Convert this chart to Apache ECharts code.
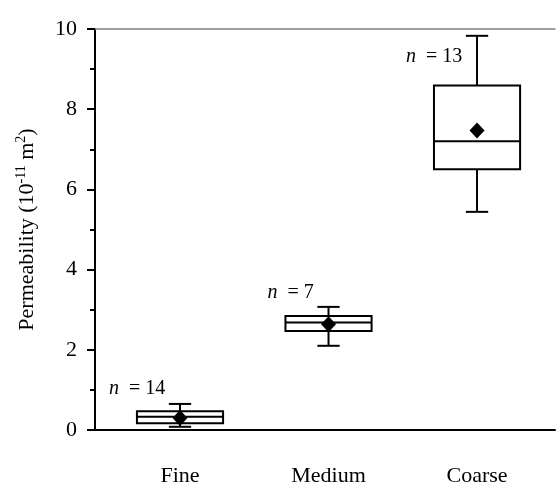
<!DOCTYPE html>
<html>
<head>
<meta charset="utf-8">
<script src="https://cdn.jsdelivr.net/npm/echarts@6/dist/echarts.min.js"></script>
<style>html,body{margin:0;padding:0;background:#fff}#c{width:557px;height:487px}</style>
</head>
<body>
<div id="c"></div>
<script>
// ---- data ----
const categories = ['Fine', 'Medium', 'Coarse'];
const whiskerMin = [0.08, 2.10, 5.44];
const q1 = [0.17, 2.47, 6.50];
const median = [0.33, 2.68, 7.20];
const q3 = [0.47, 2.84, 8.59];
const whiskerMax = [0.65, 3.07, 9.83];
const means = [0.30, 2.64, 7.47];
const nCounts = [14, 7, 13];
const nLabelY = [1.04, 3.42, 9.30];
const yTicks = [0, 2, 4, 6, 8, 10];

const FONT = 'Liberation Serif';
const boxData = categories.map((c, i) => [i + 1, whiskerMin[i], q1[i], median[i], q3[i], whiskerMax[i]]);
const meanData = categories.map((c, i) => [i + 1, means[i]]);
const labelData = categories.map((c, i) => [i + 1, nLabelY[i], nCounts[i]]);

const chart = echarts.init(document.getElementById('c'), null, {renderer: 'canvas'});
const xCommon = {
  type: 'value', min: 0.4276, max: 3.525,
  splitLine: {show: false}, axisTick: {show: false}
};
chart.setOption({
  animation: false,
  backgroundColor: '#fff',
  grid: {left: 95, right: 2, top: 29, bottom: 55},
  xAxis: [
    Object.assign({}, xCommon, {
      position: 'bottom',
      axisLine: {show: true, lineStyle: {color: '#000', width: 2}},
      axisLabel: {
        customValues: [1, 2, 3],
        formatter: v => categories[Math.round(v) - 1] || '',
        fontFamily: FONT, fontSize: 22, color: '#000', margin: 35
      }
    }),
    Object.assign({}, xCommon, {
      position: 'top',
      axisLine: {show: true, lineStyle: {color: '#808080', width: 1.5}},
      axisLabel: {show: false}
    })
  ],
  yAxis: {
    type: 'value', min: 0, max: 10, interval: 2,
    axisLine: {show: true, lineStyle: {color: '#000', width: 2}},
    axisTick: {show: true, length: 8, lineStyle: {color: '#000', width: 2}},
    minorTick: {show: true, splitNumber: 2, length: 5, lineStyle: {color: '#000', width: 2}},
    splitLine: {show: false},
    axisLabel: {
      customValues: yTicks,
      fontFamily: FONT, fontSize: 22, color: '#000', margin: 18
    },
    name: '{a|Permeability (10}{s|-11}{a| m}{s|2}{a|)}',
    nameLocation: 'middle', nameGap: 55,
    nameTextStyle: {
      rich: {
        a: {fontFamily: FONT, fontSize: 22, color: '#000', lineHeight: 26},
        s: {fontFamily: FONT, fontSize: 14, color: '#000', verticalAlign: 'top', lineHeight: 26}
      }
    }
  },
  series: [
    {
      type: 'custom',
      data: boxData,
      encode: {x: 0, y: [1, 2, 3, 4, 5]},
      renderItem: function (params, api) {
        const x = api.value(0);
        const halfBox = api.size([0.58, 0])[0] / 2;
        const halfCap = api.size([0.15, 0])[0] / 2;
        const pMin = api.coord([x, api.value(1)]);
        const pQ1 = api.coord([x, api.value(2)]);
        const pMed = api.coord([x, api.value(3)]);
        const pQ3 = api.coord([x, api.value(4)]);
        const pMax = api.coord([x, api.value(5)]);
        const cx = pMed[0];
        const ls = {stroke: '#000', lineWidth: 2, fill: null};
        return {
          type: 'group',
          children: [
            {type: 'line', shape: {x1: cx, y1: pMax[1], x2: cx, y2: pQ3[1]}, style: ls},
            {type: 'line', shape: {x1: cx, y1: pQ1[1], x2: cx, y2: pMin[1]}, style: ls},
            {type: 'line', shape: {x1: cx - halfCap, y1: pMax[1], x2: cx + halfCap, y2: pMax[1]}, style: ls},
            {type: 'line', shape: {x1: cx - halfCap, y1: pMin[1], x2: cx + halfCap, y2: pMin[1]}, style: ls},
            {type: 'rect', shape: {x: cx - halfBox, y: pQ3[1], width: 2 * halfBox, height: pQ1[1] - pQ3[1]},
              style: {stroke: '#000', lineWidth: 2, fill: '#fff'}},
            {type: 'line', shape: {x1: cx - halfBox, y1: pMed[1], x2: cx + halfBox, y2: pMed[1]}, style: ls}
          ]
        };
      },
      z: 2
    },
    {
      type: 'scatter',
      data: meanData,
      symbol: 'diamond',
      symbolSize: [15, 16],
      itemStyle: {color: '#000', opacity: 1},
      z: 3
    },
    {
      type: 'custom',
      data: labelData,
      encode: {x: 0, y: 1},
      renderItem: function (params, api) {
        const p = api.coord([api.value(0), api.value(1)]);
        const offset = api.size([0.1, 0])[0];
        return {
          type: 'text',
          x: p[0] - offset, y: p[1],
          style: {
            text: '{i|n}{r|  = ' + api.value(2) + '}',
            align: 'right', verticalAlign: 'middle',
            rich: {
              i: {fontFamily: FONT, fontStyle: 'italic', fontSize: 20, fill: '#000'},
              r: {fontFamily: FONT, fontSize: 20, fill: '#000'}
            }
          }
        };
      },
      z: 4
    }
  ]
});
</script>
</body>
</html>
